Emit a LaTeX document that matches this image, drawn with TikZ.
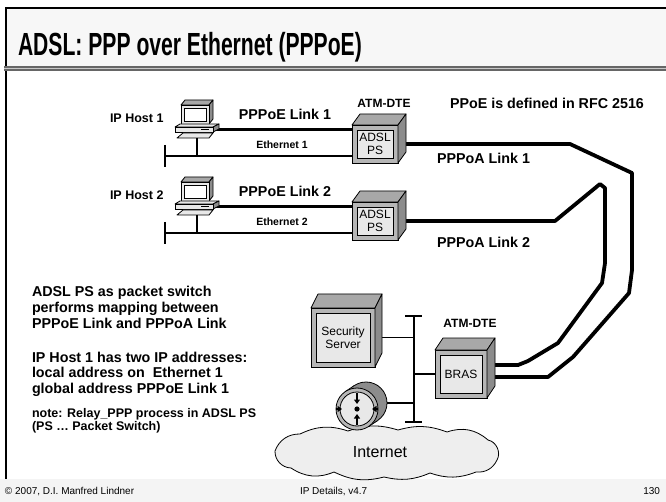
\documentclass[tikz,border=0pt]{standalone}
\usepackage{fontspec}
\setmainfont{Liberation Sans}
\usetikzlibrary{calc,arrows.meta}
\pgfdeclarelayer{background}
\pgfsetlayers{background,main}

\definecolor{cubetop}{HTML}{A8A8A8}
\definecolor{cubefront}{HTML}{B6B6B6}
\definecolor{cubeside}{HTML}{8C8C8C}
\definecolor{cubepanel}{HTML}{E8E8E8}
\definecolor{titlebg}{HTML}{F7F7F7}
\definecolor{footbg}{HTML}{F4F4F4}
\definecolor{cloudfill}{HTML}{EEEEEE}

\tikzset{
  every node/.style={inner sep=0pt, outer sep=0pt},
  bigbold/.style={font=\fontsize{14.3}{16}\selectfont\bfseries},
  midbold/.style={font=\fontsize{12.5}{14}\selectfont\bfseries},
  smallbold/.style={font=\fontsize{10.5}{12}\selectfont\bfseries},
  atmlabel/.style={font=\fontsize{12}{14}\selectfont\bfseries},
  footer/.style={font=\fontsize{10}{11}\selectfont},
  facefront/.style={draw=black, line width=0.8pt, fill=cubefront},
  facetop/.style={draw=black, line width=0.8pt, fill=cubetop, line join=round},
  faceside/.style={draw=black, line width=0.8pt, fill=cubeside, line join=round},
  facepanel/.style={draw=black, line width=0.8pt, fill=cubepanel, align=center,
    font=\fontsize{12}{12.5}\selectfont},
  pppline/.style={line width=3.8pt, line join=round},
  lanline/.style={line width=1.8pt},
  tickline/.style={line width=2.4pt},
  rtrarrow/.style={line width=1.8pt, -{Triangle[length=4.5pt, width=6pt]}},
}

% 3D device box: name, centre, width, height, depth x, depth y, label
\newcommand\devbox[7]{%
  \node[facefront, minimum width=#3, minimum height=#4] (#1) at #2 {};
  \path[facetop] (#1.north west) -- ++(#5,-#6) -- ($(#1.north east)+(#5,-#6)$) -- (#1.north east) -- cycle;
  \path[faceside] (#1.north east) -- ++(#5,-#6) -- ++(0,#4) -- (#1.south east) -- cycle;
  \node[facepanel, minimum width=#3-10, minimum height=#4-10] (#1in) at (#1.center) {#7};
}

% workstation icon: name, top-left corner
\newcommand\workstation[2]{%
  \begin{scope}[shift={#2}]
    \path[facetop] (6,5) -- (10,0) -- (38,0) -- (34,5) -- cycle;
    \path[faceside] (34,5) -- (38,0) -- (38,19) -- (34,24) -- cycle;
    \node[facefront, fill=cubepanel, minimum width=28, minimum height=19, anchor=north west] (#1mon) at (6,5) {};
    \draw[fill=white, line width=0.7pt] (9,8) rectangle (31,21);
    \path[facetop, fill=cubepanel] (0,27) -- (5,24) -- (44,24) -- (38,27) -- cycle;
    \path[faceside] (38,27) -- (44,24) -- (44,29) -- (38,32) -- cycle;
    \node[facefront, fill=cubepanel, minimum width=38, minimum height=5, anchor=north west] (#1base) at (0,27) {};
    \draw[line width=0.5pt] (26,29.5) -- (34,29.5);
    \path[facetop, fill=cubepanel] (2,38) -- (8,33) -- (38,33) -- (34,38) -- cycle;
    \coordinate (#1kb) at (22,38);
  \end{scope}}

\begin{document}
\begin{tikzpicture}[x=1pt, y=-1pt]
\useasboundingbox (0,0) rectangle (666,502);

% slide frame, title band and footer band
\fill[titlebg] (6,8) rectangle (666,67);
\fill[footbg] (0,479) rectangle (666,502);
\draw[line width=1.3pt] (666,8) -- (6,8) -- (6,479);
\fill[black!60] (4,66.5) rectangle (666,71);
\fill[black!22] (4,68) rectangle (666,69.5);
\node[anchor=base west] (title) at (18,56)
  {\scalebox{0.66}[1]{\fontsize{32}{34}\selectfont\bfseries ADSL: PPP over Ethernet (PPPoE)}};

% devices
\workstation{pc1}{(175,100)}
\workstation{pc2}{(175,177)}
\devbox{ps1}{(375,144)}{46}{38}{8}{11}{ADSL\\PS}
\devbox{ps2}{(375,221)}{46}{38}{8}{11}{ADSL\\PS}
\devbox{sec}{(343,337.5)}{64}{59}{7}{14}{Security\\Server}
\devbox{bras}{(461,374)}{52}{48}{8}{12}{BRAS}

% Internet cloud
\draw[fill=cloudfill, line width=0.8pt]
  (275,451) to[bend left=35] (300,434) to[bend left=22] (348,431)
  to[bend left=18] (398,430) to[bend left=18] (447,432)
  to[bend left=30] (488,440) to[bend left=55] (497,460)
  to[bend left=35] (476,472) to[bend left=20] (430,473)
  to[bend left=18] (384,477) to[bend left=20] (334,472)
  to[bend left=28] (291,468) to[bend left=45] cycle;
\node[font=\fontsize{16}{18}\selectfont] (inet) at (380,452) {Internet};

% router
\coordinate (rtrback) at (366,403);
\node[circle, minimum size=42, draw, line width=0.8pt, fill=cubeside] (rtrb) at (rtrback) {};
\fill[cubeside] ($(357,409)+(11.65,17.5)$) -- ($(rtrback)+(11.65,17.5)$)
  -- ($(rtrback)+(-11.65,-17.5)$) -- ($(357,409)+(-11.65,-17.5)$) -- cycle;
\draw[line width=0.8pt] ($(357,409)+(11.65,17.5)$) -- ($(rtrback)+(11.65,17.5)$);
\draw[line width=0.8pt] ($(357,409)+(-11.65,-17.5)$) -- ($(rtrback)+(-11.65,-17.5)$);
\node[circle, minimum size=42, draw, line width=0.8pt, fill=cubefront] (rtr) at (357,409) {};
\node[circle, minimum size=34, draw, line width=0.8pt, fill=cubepanel] (rtrin) at (rtr) {};
\draw[rtrarrow] (rtr) -- ++(-15,0);
\draw[rtrarrow] (rtr) -- ++(15,0);
\draw[rtrarrow] ($(rtr)+(0,-16)$) -- ++(0,11);
\draw[rtrarrow] ($(rtr)+(0,16)$) -- ++(0,-11);
\fill (rtr) circle (2.6pt);

% Ethernet segments
\coordinate (lan1) at (165,156);
\coordinate (lan2) at (165,233);
\draw[lanline] (lan1) -- (lan1 -| ps1.west);
\draw[lanline] (lan2) -- (lan2 -| ps2.west);
\draw[tickline] ($(lan1)+(0,-11)$) -- ($(lan1)+(0,11)$);
\draw[tickline] ($(lan2)+(0,-11)$) -- ($(lan2)+(0,11)$);
\draw[lanline] (pc1kb) -- (pc1kb |- lan1);
\draw[lanline] (pc2kb) -- (pc2kb |- lan2);

% server LAN
\coordinate (sltop) at (414,316);
\coordinate (slbot) at (414,422);
\draw[lanline] (sltop) -- (slbot);
\draw[tickline] ($(sltop)+(-9,0)$) -- ($(sltop)+(8,0)$);
\draw[tickline] ($(slbot)+(-9,0)$) -- ($(slbot)+(8,0)$);
\begin{pgfonlayer}{background}
  \draw[lanline] (sec.center) -- (sec.center -| sltop);
  \draw[lanline] (bras.center) -- (bras.center -| sltop);
  \draw[lanline] (rtrback) -- (rtrback -| sltop);
\end{pgfonlayer}

% PPPoE and PPPoA links
\coordinate (k1) at (548,377);
\coordinate (k2) at (518,365);
\begin{pgfonlayer}{background}
  \draw[pppline] (pc1base.east) -- (pc1base.east -| ps1.center);
  \draw[pppline] (pc2base.east) -- (pc2base.east -| ps2.center);
  \draw[pppline] (ps1.center) -- (570,144) -- (632,173) -- (632,270) -- (629,293)
    -- (573,357) -- (k1) -- (k1 -| bras.center);
  \draw[pppline] (ps2.center) -- (555,221) -- (600,184) -- (605,188) -- (605,263)
    -- (602,283) -- (558,343) -- (528,361) -- (k2) -- (k2 -| bras.center);
\end{pgfonlayer}

% labels
\node[midbold, anchor=west] (host1) at (110,118) {IP Host 1};
\node[midbold, anchor=west] (host2) at (110,195) {IP Host 2};
\node[bigbold] (pppoe1) at (285,114) {PPPoE Link 1};
\node[bigbold] (pppoe2) at (285,191) {PPPoE Link 2};
\node[smallbold] (eth1) at (282,145) {Ethernet 1};
\node[smallbold] (eth2) at (282,222) {Ethernet 2};
\node[atmlabel] (atm1) at (384,103) {ATM-DTE};
\node[atmlabel] (atm2) at (470,323) {ATM-DTE};
\node[bigbold, anchor=west] (rfc) at (450,103) {PPoE is defined in RFC 2516};
\node[bigbold, anchor=west] (pppoa1) at (437,158) {PPPoA Link 1};
\node[bigbold, anchor=west] (pppoa2) at (437,242) {PPPoA Link 2};

% notes
\node[bigbold, anchor=base west] (n1) at (32,297) {ADSL PS as packet switch};
\node[bigbold, anchor=base west] (n2) at (32,312.5) {performs mapping between};
\node[bigbold, anchor=base west] (n3) at (32,328) {PPPoE Link and PPPoA Link};
\node[bigbold, anchor=base west] (n4) at (32,362) {IP Host 1 has two IP addresses:};
\node[bigbold, anchor=base west] (n5) at (32,377.5) {local address on~ Ethernet 1};
\node[bigbold, anchor=base west] (n6) at (32,393) {global address PPPoE Link 1};
\node[midbold, anchor=base west] (n7) at (32,417.5) {note: Relay\_PPP process in ADSL PS};
\node[midbold, anchor=base west] (n8) at (32,430) {(PS … Packet Switch)};

% footer
\node[footer, anchor=base west] (copy) at (5,494.5) {© 2007, D.I. Manfred Lindner};
\node[footer, anchor=base west] (course) at (300,494.5) {IP Details, v4.7};
\node[footer, anchor=base east] (page) at (660,494.5) {130};
\end{tikzpicture}
\end{document}
